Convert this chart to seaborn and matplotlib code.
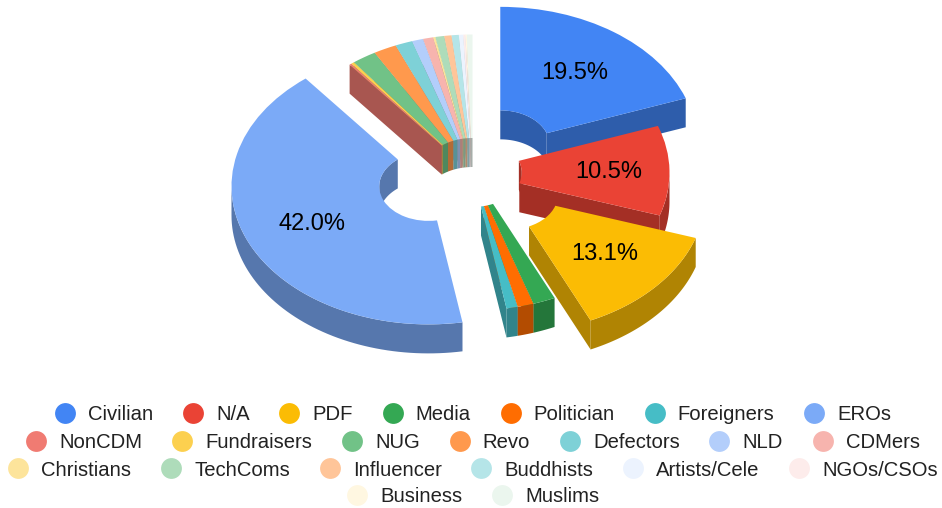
import numpy as np
import seaborn as sns
import matplotlib.pyplot as plt
from matplotlib.lines import Line2D

labels = ['Civilian', 'N/A', 'PDF', 'Media', 'Politician', 'Foreigners', 'EROs',
          'NonCDM', 'Fundraisers', 'NUG', 'Revo', 'Defectors', 'NLD', 'CDMers',
          'Christians', 'TechComs', 'Influencer', 'Buddhists', 'Artists/Cele', 'NGOs/CSOs',
          'Business', 'Muslims']
shares = [19.52, 10.52, 13.12, 1.84, 1.32, 0.92, 42.04,
          0.16, 0.27, 2.0, 1.9, 1.42, 0.92, 0.84,
          0.18, 0.72, 0.6, 0.6, 0.36, 0.17,
          0.11, 0.47]
colors = ['#4285F4', '#EA4335', '#FBBC04', '#34A853', '#FF6D01', '#46BDC6', '#7BAAF7',
          '#F07B72', '#FCD04F', '#71C287', '#FF994D', '#7ED1D7', '#B3CEFB', '#F7B4AE',
          '#FDE49B', '#AEDCBA', '#FFC599', '#B5E5E8', '#ECF3FE', '#FDECEB',
          '#FFF7E1', '#EBF6EE']
pulled_out = ['Civilian', 'PDF', 'EROs']
legend_rows = [7, 7, 6, 2]

# pixel layout of the tilted pie
W, H = 942, 508
CX, CY = 472.5, 172.5
RX, RY = 197, 138
HOLE = 0.25
DEPTH = 29 / RY
EXPLODE = 0.245

sns.set_theme(style='white')
plt.rcParams['font.family'] = ['Liberation Sans', 'DejaVu Sans']

fig = plt.figure(figsize=(W / 100, H / 100), dpi=100)
ax = fig.add_axes([0, 0, 1, 1])
palette = sns.color_palette(colors)
explode = [EXPLODE if n in pulled_out else 0 for n in labels]

wedges, texts, pcts = ax.pie(shares, explode=explode, colors=palette, radius=1,
                             startangle=90, counterclock=False,
                             autopct=lambda p: f'{p:.1f}%' if p > 5 else '',
                             pctdistance=0.65,
                             textprops={'fontsize': 17, 'color': 'black'},
                             wedgeprops={'width': 1 - HOLE, 'linewidth': 0})
ax.set_aspect('auto')
ax.set_xlim(-CX / RX, (W - CX) / RX)
ax.set_ylim(-(H - CY) / RY, CY / RY)
ax.axis('off')


def ring(a, r, c):
    a = np.radians(a)
    return c[0] + r * np.sin(a), c[1] + r * np.cos(a)


def wall(xs, ys, color, z):
    xs = np.concatenate([xs, xs[::-1]])
    ys = np.concatenate([ys, ys[::-1] - DEPTH])
    ax.fill(xs, ys, color=color, lw=0, zorder=z)


def arc_part(a0, a1, lo, hi):
    # the part of a0..a1 that lies within lo..hi, or the same shifted a full turn
    for shift in (-360, 0, 360):
        s, e = max(a0, lo + shift), min(a1, hi + shift)
        if e > s:
            yield s, e


# back slices first, the small slices in the top left back to front
order = [0] + list(range(21, 6, -1)) + [1, 6, 2, 3, 4, 5]
edges = np.concatenate([[0], np.cumsum(shares)]) * 3.6

for rank, i in enumerate(order):
    a0, a1 = edges[i], edges[i + 1]
    mid = np.radians((a0 + a1) / 2)
    c = (explode[i] * np.sin(mid), explode[i] * np.cos(mid))
    dark = np.array(palette[i]) * 0.7
    z = 10 + 2 * rank

    # outer wall faces the viewer on the lower half, inner wall on the upper half
    for s, e in arc_part(a0, a1, 90, 270):
        wall(*ring(np.linspace(s, e, 60), 1, c), dark, z)
    for s, e in arc_part(a0, a1, -90, 90):
        wall(*ring(np.linspace(s, e, 60), HOLE, c), dark, z)
    # cut faces
    if np.sin(np.radians(a0)) < -1e-6:
        wall(*ring(np.array([a0, a0]), np.array([HOLE, 1]), c), dark, z)
    if np.sin(np.radians(a1)) > 1e-6:
        wall(*ring(np.array([a1, a1]), np.array([HOLE, 1]), c), dark, z)
    wedges[i].set_zorder(z + 1)

# label nudges in pixels: Civilian, N/A, PDF, EROs
for t, dy in zip([pcts[0], pcts[1], pcts[2], pcts[6]], [1.2, 0.5, -1, 0.5]):
    t.set_zorder(100)
    x, y = t.get_position()
    t.set_position((x + 0.5 / RX, y - dy / RY))
pcts[1].set_x(pcts[1].get_position()[0] * 0.69 / 0.65)

# one centred legend per row
row_y = [415, 443, 470, 497]
start = 0
for n, y in zip(legend_rows, row_y):
    handles = [Line2D([], [], ls='', marker='o', ms=15, mew=0, color=palette[j])
               for j in range(start, start + n)]
    fig.legend(handles, labels[start:start + n], ncol=n, loc='center',
               bbox_to_anchor=((CX + 0.5) / W, 1 - y / H), bbox_transform=fig.transFigure,
               frameon=False, fontsize=14.6, labelcolor='#222222', numpoints=1,
               handlelength=1, handletextpad=0.64, columnspacing=1.46,
               borderpad=0, borderaxespad=0)
    start += n

fig.savefig('out.png', dpi=100)
